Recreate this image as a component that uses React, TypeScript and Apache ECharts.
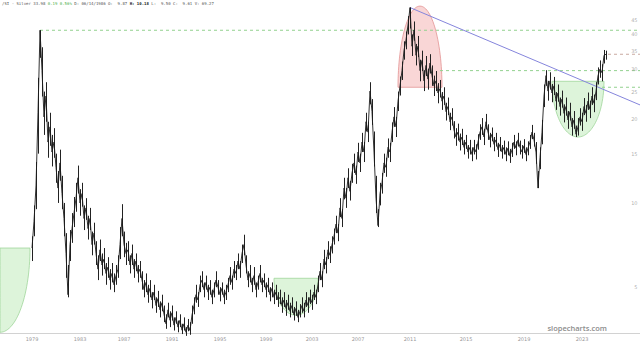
import React, { useEffect, useRef } from "react";
import * as echarts from "echarts";

// ---- x axis: bar-indexed, like the original chart ----
const totalBars = 321;
const firstPriceBar = 16;
const yearLabels = ["1979", "1983", "1987", "1991", "1995", "1999", "2003", "2007", "2011", "2015", "2019", "2023"];
const yearBars = [16, 40, 62, 86, 110, 133, 156, 179, 205, 233, 262, 291];

// ---- price closes / highs / lows (one per bar) ----
const closes = [
  6.9, 8.6, 11.5, 21, 41.4, 29.7, 20.3, 24.1, 16.5, 18.7, 15.2, 16.5,
  13.4, 11.3, 13.9, 10.8, 8.8, 6.6, 4.7, 7.1, 8.1, 9.2, 10.4, 12.3,
  10.0, 10.8, 8.8, 9.6, 8.1, 8.8, 7.1, 7.8, 6.6, 5.8, 6.8, 6.0,
  6.3, 5.6, 5.9, 5.3, 5.6, 5.1, 5.5, 5.8, 7.1, 8.8, 7.1, 6.6,
  6.8, 6.0, 6.6, 5.8, 6.2, 5.6, 5.8, 5.3, 4.9, 5.2, 4.7, 4.95,
  4.5, 4.8, 4.3, 4.55, 4.15, 4.4, 4.0, 3.7, 4.15, 3.81, 4.05, 3.66,
  3.9, 3.6, 3.81, 3.51, 3.7, 3.45, 3.66, 3.5, 3.98, 4.3, 4.7, 4.5,
  5.1, 5.3, 4.9, 5.2, 4.8, 5.0, 4.6, 4.9, 5.3, 5.0, 4.7, 4.95,
  4.6, 4.8, 5.1, 5.5, 5.2, 5.8, 5.6, 6.2, 5.8, 6.6, 7.1, 6.0,
  5.3, 5.6, 5.1, 5.5, 4.9, 5.2, 5.6, 5.1, 5.3, 4.9, 5.1, 4.7,
  4.95, 4.6, 4.8, 4.5, 4.6, 4.3, 4.5, 4.2, 4.4, 4.1, 4.3, 3.98,
  4.2, 3.9, 4.1, 4.3, 4.1, 4.5, 4.3, 4.6, 4.4, 4.8, 4.6, 5.1,
  5.7, 5.3, 6.3, 6.0, 6.8, 6.5, 7.1, 7.6, 8.4, 7.8, 9.6, 8.8,
  11.3, 10.4, 12.3, 11.0, 12.8, 13.9, 12.6, 15.2, 13.9, 16.5, 15.2, 19.5,
  17.9, 25.1, 21.2, 15.2, 10.4, 8.3, 10.8, 11.8, 13.9, 13.4, 15.8, 15.2,
  17.9, 20.3, 18.7, 23.1, 26.2, 29.7, 35.1, 38.2, 43.2, 49.9, 36.3, 41.5,
  33.7, 36.3, 29.7, 32.3, 27.3, 31.0, 27.7, 31.6, 28.5, 26.2, 27.3, 24.7,
  25.6, 23.1, 24.1, 21.2, 22.1, 19.5, 20.3, 18.2, 17.2, 17.9, 16.5, 17.2,
  15.8, 16.5, 15.2, 15.8, 14.9, 15.8, 15.2, 16.5, 17.9, 18.7, 17.2, 19.5,
  17.9, 16.8, 17.6, 16.2, 16.8, 15.5, 16.2, 15.2, 15.8, 14.9, 15.7, 14.7,
  15.5, 16.5, 15.7, 16.8, 15.8, 15.2, 16.0, 14.9, 15.7, 16.5, 17.9, 16.8,
  15.2, 11.3, 14.5, 17.9, 24.1, 28.5, 25.1, 27.3, 24.7, 26.2, 23.1, 24.7,
  22.1, 23.5, 20.9, 22.1, 19.8, 21.2, 18.7, 19.8, 17.6, 18.7, 20.3, 19.5,
  22.1, 20.9, 23.1, 21.6, 24.1, 22.7, 25.1, 28.5, 30.1, 29.2, 33.7, 33.98,
];
const highs = [
  7.6, 9.8, 14, 28, 41.4, 36, 25, 27, 19.5, 21, 17.5, 18.5,
  15, 13, 15.5, 12.5, 10, 7.8, 6.0, 8.0, 9.2, 10.5, 11.8, 13.6,
  11.2, 11.8, 9.8, 10.4, 9.0, 9.6, 7.9, 8.5, 7.3, 6.5, 7.4, 6.6,
  6.9, 6.1, 6.4, 5.8, 6.1, 5.6, 6.0, 6.5, 8.2, 9.9, 7.9, 7.2,
  7.3, 6.5, 7.1, 6.3, 6.6, 6.0, 6.2, 5.7, 5.3, 5.6, 5.1, 5.3,
  4.8, 5.1, 4.6, 4.85, 4.45, 4.7, 4.3, 4.0, 4.4, 4.1, 4.3, 3.9,
  4.1, 3.8, 4.0, 3.7, 3.9, 3.6, 3.85, 3.75, 4.3, 4.6, 5.1, 4.8,
  5.5, 5.7, 5.2, 5.5, 5.1, 5.3, 4.9, 5.2, 5.7, 5.3, 5.0, 5.2,
  4.9, 5.1, 5.4, 5.9, 5.5, 6.2, 6.0, 6.6, 6.2, 7.1, 7.7, 6.5,
  5.7, 6.0, 5.4, 5.9, 5.2, 5.5, 6.0, 5.4, 5.6, 5.2, 5.4, 5.0,
  5.2, 4.9, 5.1, 4.8, 4.9, 4.6, 4.8, 4.5, 4.7, 4.4, 4.6, 4.25,
  4.45, 4.15, 4.35, 4.6, 4.4, 4.8, 4.6, 4.9, 4.7, 5.1, 4.9, 5.5,
  6.1, 5.7, 6.8, 6.4, 7.3, 7.0, 7.6, 8.1, 9.0, 8.4, 10.4, 9.5,
  12.3, 11.3, 13.3, 12.0, 13.8, 15.0, 13.6, 16.4, 15.0, 17.8, 16.5, 21,
  19.5, 27, 23.5, 18, 12.5, 9.5, 11.8, 12.8, 15.0, 14.5, 17, 16.4,
  19.4, 22, 20.3, 25, 28.3, 32, 37.8, 41, 46.5, 49.9, 40, 44.5,
  37, 39.5, 32.5, 35, 29.8, 33.5, 30.2, 34, 31, 28.5, 29.6, 26.8,
  27.5, 24.9, 25.9, 22.8, 23.8, 21, 21.8, 19.6, 18.5, 19.2, 17.7, 18.4,
  16.8, 17.5, 16.1, 16.8, 15.8, 16.8, 16.2, 17.6, 19.1, 20.1, 18.4, 20.8,
  19.1, 17.8, 18.6, 17.2, 17.8, 16.4, 17.2, 16.1, 16.7, 15.8, 16.6, 15.6,
  16.4, 17.5, 16.6, 17.8, 16.7, 16.1, 16.9, 15.8, 16.6, 17.5, 19, 17.8,
  16.5, 13, 15.8, 19.8, 26.5, 29.8, 27.3, 29.3, 26.6, 28.2, 24.9, 26.5,
  23.8, 25.2, 22.5, 23.8, 21.3, 22.8, 20.1, 21.3, 18.9, 20.1, 21.8, 21,
  23.7, 22.4, 24.8, 23.2, 25.9, 24.4, 27, 30.5, 32.3, 31.3, 35.2, 35,
];
const lows = [
  6.2, 7.6, 9.5, 15, 33, 24, 17.5, 19.5, 14.5, 16, 13.5, 14.5,
  11.8, 10, 12, 9.5, 7.6, 5.4, 4.6, 6.2, 7.2, 8.2, 9.3, 10.8,
  9.0, 9.7, 8.0, 8.7, 7.4, 8.0, 6.5, 7.1, 6.0, 5.3, 6.2, 5.5,
  5.8, 5.1, 5.4, 4.9, 5.2, 4.8, 5.1, 5.4, 6.3, 7.6, 6.4, 6.0,
  6.2, 5.6, 6.0, 5.4, 5.7, 5.2, 5.4, 4.9, 4.6, 4.8, 4.4, 4.6,
  4.2, 4.5, 4.05, 4.25, 3.9, 4.1, 3.75, 3.55, 3.9, 3.6, 3.8, 3.5,
  3.7, 3.45, 3.6, 3.4, 3.5, 3.35, 3.48, 3.38, 3.7, 4.0, 4.4, 4.25,
  4.8, 5.0, 4.6, 4.9, 4.5, 4.7, 4.35, 4.6, 5.0, 4.7, 4.45, 4.7,
  4.35, 4.5, 4.8, 5.1, 4.9, 5.4, 5.3, 5.8, 5.4, 6.1, 6.5, 5.6,
  5.0, 5.2, 4.8, 5.1, 4.6, 4.9, 5.2, 4.8, 5.0, 4.6, 4.8, 4.45,
  4.6, 4.35, 4.5, 4.25, 4.35, 4.05, 4.25, 3.95, 4.15, 3.9, 4.05, 3.8,
  3.95, 3.75, 3.9, 4.05, 3.9, 4.25, 4.05, 4.35, 4.15, 4.5, 4.35, 4.8,
  5.3, 5.0, 5.8, 5.6, 6.3, 6.1, 6.6, 7.1, 7.8, 7.3, 8.9, 8.2,
  10.3, 9.6, 11.3, 10.2, 11.8, 12.8, 11.7, 14.0, 12.9, 15.2, 14.0, 18,
  16.5, 22.5, 19, 13.5, 9.2, 8.2, 9.8, 10.8, 12.8, 12.4, 14.5, 14,
  16.5, 18.7, 17.2, 21.3, 24.2, 27.5, 32.5, 35.4, 40, 42, 33.5, 38,
  31, 33.2, 27.2, 29.6, 25.1, 28.4, 25.4, 29, 26.2, 24.1, 25.1, 22.7,
  23.8, 21.5, 22.4, 19.7, 20.6, 18.2, 18.9, 17, 16, 16.7, 15.4, 16.1,
  14.9, 15.6, 14.4, 14.9, 14.1, 14.9, 14.3, 15.5, 16.8, 17.5, 16.1, 18.3,
  16.8, 15.8, 16.6, 15.3, 15.9, 14.6, 15.3, 14.4, 14.9, 14.1, 14.8, 13.9,
  14.6, 15.6, 14.8, 15.9, 14.9, 14.4, 15.1, 14.1, 14.8, 15.6, 16.9, 15.9,
  13.8, 11.3, 13.2, 16.2, 22, 26.2, 23.2, 25.4, 22.9, 24.3, 21.5, 23,
  20.5, 21.9, 19.4, 20.5, 18.4, 19.7, 17.4, 18.4, 17.2, 17.4, 18.9, 18.1,
  20.6, 19.5, 21.5, 20.1, 22.4, 21.1, 23.3, 26.5, 28, 27.2, 31.5, 32.5,
];

// ---- y axis tick labels ----
const priceTicks = [5, 10, 15, 20, 25, 30, 35, 40, 45];

// ---- annotations (bar, price) ----
const levelBars = [20, 220, 301];
const levelPrices = [41.4, 29.7, 25.9];
const lastPrice = 33.98;
const trendBars = [205, 320];
const trendPrices = [49.9, 22.4];
// cup (bowl) shapes: centre bar, half width in bars, rim price, bottom price
const bowlCenters = [0, 148, 289];
const bowlHalfWidths = [15, 11, 13];
const bowlRims = [6.9, 5.38, 27.2];
const bowlBottoms = [3.45, 3.97, 17.2];
// top (arch) shapes: centre bar, half width in bars, base price, top price
const archCenters = [210];
const archHalfWidths = [11];
const archBases = [25.9];
const archTops = [50.5];

const headerText =
  "/SI - Silver 33.98 {g|0.19 0.56%} D: 06/14/1986 O:  9.87 {b|H: 10.18} L:  9.50 C:  9.61 V: 69.27";

function halfEllipse(params: any, api: any, fill: string, stroke: string) {
  const cb = api.value(0);
  const hw = api.value(1);
  const p1 = api.value(2);
  const p2 = api.value(3);
  const c = api.coord([cb, p1]);
  const e = api.coord([cb + hw, p2]);
  const rx = e[0] - c[0];
  const ry = e[1] - c[1];
  const left = params.coordSys.x;
  const right = params.coordSys.x + params.coordSys.width;
  const pts: number[][] = [];
  const n = 60;
  for (let k = 0; k <= n; k++) {
    const t = (Math.PI * k) / n;
    const x = Math.min(right, Math.max(left, c[0] + rx * Math.cos(t)));
    pts.push([x, c[1] + ry * Math.sin(t)]);
  }
  return {
    type: "polygon",
    shape: { points: pts },
    style: { fill, stroke, lineWidth: 0.8 },
  };
}

export default function App() {
  const ref = useRef<HTMLDivElement>(null);
  useEffect(() => {
    const chart = echarts.init(ref.current!, undefined, { renderer: "svg" });
    const categories = Array.from({ length: totalBars }, (_, i) => String(i));
    const yearMap = new Map<number, string>();
    yearBars.forEach((b, i) => yearMap.set(b, yearLabels[i]));
    const lastBar = totalBars - 1;
    const priceData = closes.map((v, i) => [firstPriceBar + i, v]);
    const rangeData = closes.map((_, i) => [firstPriceBar + i, lows[i], highs[i]]);
    const lastCloseBar = firstPriceBar + closes.length;

    const dash = [3, 3];
    const levelSeries = levelBars.map((b, i) => ({
      type: "line",
      data: [
        [b, levelPrices[i]],
        [lastBar, levelPrices[i]],
      ],
      symbol: "none",
      lineStyle: { color: "#93d18f", width: 1, type: dash },
      z: 2,
      silent: true,
    }));

    const option: any = {
      animation: false,
      backgroundColor: "#ffffff",
      grid: { left: 0, right: 0, top: 0, bottom: 11, containLabel: false },
      xAxis: {
        type: "category",
        data: categories,
        boundaryGap: false,
        axisLine: { show: true, lineStyle: { color: "#d2d2d2", width: 1 } },
        axisTick: { show: false },
        splitLine: { show: false },
        axisLabel: {
          interval: (idx: number) => yearMap.has(idx),
          formatter: (_v: string, idx: number) => yearMap.get(idx) || "",
          fontSize: 5,
          color: "#999",
          margin: 3,
          fontFamily: "DejaVu Sans",
        },
      },
      yAxis: {
        type: "log",
        logBase: 10,
        min: 3.43,
        max: 53.1,
        position: "right",
        axisLine: { show: false },
        axisTick: { show: false },
        axisLabel: { show: false },
        splitLine: { show: false },
      },
      graphic: [
        {
          type: "text",
          left: 2,
          top: 1,
          style: {
            text: headerText,
            fontSize: 4,
            fontFamily: "DejaVu Sans Mono",
            fill: "#555",
            rich: {
              g: { fontSize: 4, fontFamily: "DejaVu Sans Mono", fill: "#4bb04b" },
              b: { fontSize: 4, fontFamily: "DejaVu Sans Mono", fill: "#222", fontWeight: "bold" },
            },
          },
        },
        {
          type: "text",
          x: 607,
          y: 328,
          style: {
            text: "slopecharts.com",
            fontSize: 7.5,
            fontFamily: "Open Sans",
            fontWeight: 600,
            fill: "#8c8c8c",
            align: "right",
            verticalAlign: "middle",
          },
        },
      ],
      series: [
        {
          type: "custom",
          z: 1,
          silent: true,
          encode: { x: 0, y: 2 },
          data: bowlCenters.map((c, i) => [c, bowlHalfWidths[i], bowlRims[i], bowlBottoms[i]]),
          renderItem: (params: any, api: any) =>
            halfEllipse(params, api, "rgba(150, 222, 140, 0.32)", "#9fd69a"),
        },
        {
          type: "custom",
          z: 1,
          silent: true,
          encode: { x: 0, y: 2 },
          data: archCenters.map((c, i) => [c, archHalfWidths[i], archBases[i], archTops[i]]),
          renderItem: (params: any, api: any) =>
            halfEllipse(params, api, "rgba(232, 90, 90, 0.25)", "#e39393"),
        },
        ...levelSeries,
        {
          type: "line",
          data: [
            [lastCloseBar, lastPrice],
            [lastBar, lastPrice],
          ],
          symbol: "none",
          lineStyle: { color: "#c9a9a0", width: 1, type: dash },
          z: 2,
          silent: true,
        },
        {
          type: "line",
          data: trendBars.map((b, i) => [b, trendPrices[i]]),
          symbol: "none",
          lineStyle: { color: "#8585dc", width: 1 },
          z: 2,
          silent: true,
        },
        {
          type: "custom",
          z: 3,
          silent: true,
          encode: { x: 0, y: [1, 2] },
          data: rangeData,
          renderItem: (_params: any, api: any) => {
            const lo = api.coord([api.value(0), api.value(1)]);
            const hi = api.coord([api.value(0), api.value(2)]);
            const x = Math.round(lo[0]) + 0.5;
            return {
              type: "line",
              shape: { x1: x, y1: lo[1], x2: x, y2: hi[1] },
              style: { stroke: "#222", lineWidth: 1 },
            };
          },
        },
        {
          type: "line",
          data: priceData,
          symbol: "none",
          lineStyle: { color: "#1c1c1c", width: 0.9 },
          z: 3,
          silent: true,
        },
        {
          type: "scatter",
          data: priceTicks.map((v) => [lastBar, v]),
          symbol: "circle",
          symbolSize: 1,
          itemStyle: { color: "rgba(0,0,0,0)" },
          label: {
            show: true,
            position: "left",
            distance: 2,
            formatter: (p: any) => String(p.value[1]),
            fontSize: 5,
            color: "#999",
            fontFamily: "DejaVu Sans",
          },
          z: 4,
          silent: true,
        },
      ],
    };
    chart.setOption(option);
    return () => chart.dispose();
  }, []);
  return (
    <div
      ref={ref}
      style={{ position: "fixed", left: 0, top: 0, width: 640, height: 344, background: "#fff" }}
    />
  );
}
